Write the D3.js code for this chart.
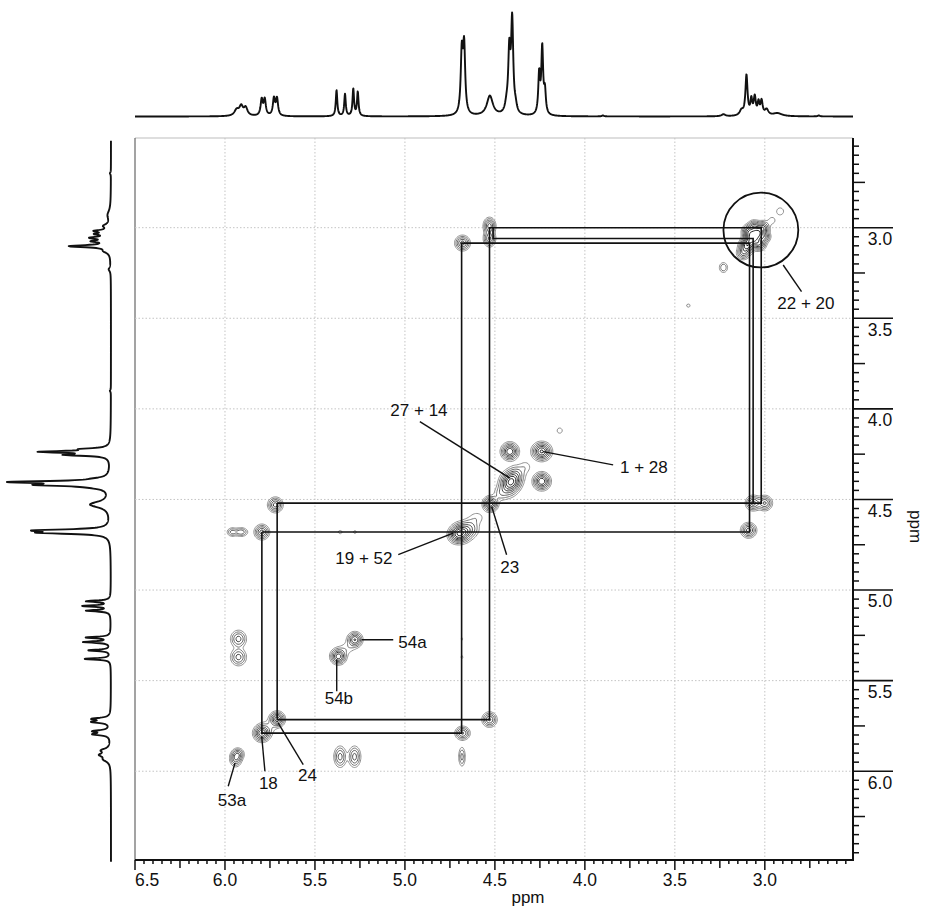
<!DOCTYPE html>
<html>
<head>
<meta charset="utf-8">
<script src="https://cdn.jsdelivr.net/npm/d3@7"></script>
<style>
  body { margin: 0; background: #fff; }
  svg { display: block; }
  text { font-family: "Liberation Sans", Arial, sans-serif; fill: #111; }
</style>
</head>
<body>
<svg id="chart" width="925" height="911"></svg>
<script>
// ---- chemical shift window (ppm) ----
const xDomain = [6.5, 2.51];
const yDomain = [2.505, 6.49];
const xTickLabels = [6.5, 6.0, 5.5, 5.0, 4.5, 4.0, 3.5, 3.0];
const yTickLabels = [3.0, 3.5, 4.0, 4.5, 5.0, 5.5, 6.0];

// ---- 1D proton spectrum (F2 trace): line positions (ppm), heights, half-widths (ppm) ----
const linePpm    = [5.935, 5.910, 5.885, 5.796, 5.779, 5.728, 5.711, 5.380, 5.333, 5.287, 5.262,
                    4.684, 4.671, 4.528, 4.435, 4.420, 4.404, 4.385, 4.254, 4.237, 4.222,
                    3.900, 3.230, 3.130, 3.102, 3.075, 3.056, 3.035, 3.018, 2.990, 2.930, 2.700];
const lineHeight = [6, 9, 8, 16, 16, 17, 17, 26, 22, 27, 24,
                    60, 66, 20, 8, 60, 92, 6, 40, 66, 22,
                    1, 2, 5, 40, 15, 18, 12, 14, 6, 3, 1];
const lineWidth  = [0.015, 0.012, 0.012, 0.007, 0.007, 0.007, 0.007, 0.005, 0.005, 0.005, 0.005,
                    0.007, 0.007, 0.020, 0.010, 0.007, 0.007, 0.008, 0.006, 0.006, 0.006,
                    0.006, 0.012, 0.012, 0.007, 0.006, 0.007, 0.006, 0.007, 0.012, 0.030, 0.006];

// ---- F1 trace: same lines plus the extra multiplet near 5.1 ppm ----
const f1ExtraPpm    = [5.062, 5.088, 5.114];
const f1ExtraHeight = [24, 27, 24];
const f1ExtraWidth  = [0.005, 0.005, 0.005];

// ---- COSY cross peaks: F2 shift, F1 shift, relative intensity, widths (ppm) ----
const peakF2  = [3.100, 3.070, 3.040, 3.090, 3.030, 3.120, 3.010, 3.000, 3.060, 2.960, 2.915,
                 4.240, 4.140, 4.410, 4.430, 4.380, 4.525, 4.690, 4.640, 4.720, 4.600, 4.470, 4.330,
                 5.278, 5.370, 5.320, 5.710, 5.795, 5.760, 5.940, 5.925,
                 4.530, 4.530, 4.680, 3.065, 3.000, 3.090, 4.417, 4.240, 3.230, 3.425,
                 5.720, 5.795, 5.960, 5.910, 5.360, 5.278, 5.925, 5.925, 4.683, 4.683,
                 4.530, 4.680, 5.360, 5.280, 4.683];
const peakF1  = [3.100, 3.060, 3.030, 3.020, 3.090, 3.140, 3.000, 3.050, 2.990, 2.960, 2.910,
                 4.235, 4.120, 4.400, 4.440, 4.360, 4.525, 4.685, 4.660, 4.700, 4.600, 4.470, 4.320,
                 5.274, 5.366, 5.320, 5.713, 5.790, 5.760, 5.930, 5.905,
                 2.990, 3.060, 3.085, 4.520, 4.520, 4.670, 4.235, 4.400, 3.220, 3.430,
                 4.530, 4.680, 4.680, 4.680, 4.680, 4.680, 5.270, 5.370, 5.270, 5.370,
                 5.715, 5.790, 5.920, 5.920, 5.920];
const peakAmp = [0.90, 1.00, 0.90, 0.60, 0.60, 0.45, 0.55, 0.45, 0.45, 0.12, 0.14,
                 0.90, 0.11, 1.00, 0.35, 0.30, 0.80, 1.00, 0.35, 0.30, 0.12, 0.16, 0.12,
                 0.70, 0.80, 0.12, 0.80, 0.85, 0.12, 0.50, 0.35,
                 0.60, 0.55, 0.60, 0.60, 0.55, 0.60, 0.85, 0.85, 0.25, 0.12,
                 0.60, 0.60, 0.30, 0.35, 0.12, 0.11, 0.45, 0.45, 0.10, 0.11,
                 0.55, 0.55, 0.45, 0.45, 0.30];
const peakW2  = [0.022, 0.024, 0.022, 0.020, 0.020, 0.020, 0.020, 0.018, 0.018, 0.018, 0.018,
                 0.028, 0.018, 0.030, 0.030, 0.028, 0.022, 0.030, 0.030, 0.024, 0.030, 0.024, 0.024,
                 0.022, 0.023, 0.030, 0.022, 0.024, 0.030, 0.018, 0.018,
                 0.018, 0.018, 0.022, 0.022, 0.022, 0.023, 0.025, 0.025, 0.015, 0.011,
                 0.022, 0.022, 0.017, 0.021, 0.012, 0.010, 0.024, 0.024, 0.007, 0.007,
                 0.022, 0.022, 0.019, 0.019, 0.011];
const peakW1  = [0.022, 0.024, 0.022, 0.020, 0.020, 0.020, 0.020, 0.018, 0.018, 0.018, 0.018,
                 0.026, 0.018, 0.030, 0.030, 0.028, 0.022, 0.028, 0.030, 0.024, 0.024, 0.024, 0.024,
                 0.022, 0.023, 0.024, 0.022, 0.024, 0.030, 0.024, 0.018,
                 0.024, 0.024, 0.022, 0.022, 0.022, 0.022, 0.025, 0.025, 0.018, 0.010,
                 0.022, 0.022, 0.014, 0.014, 0.010, 0.010, 0.026, 0.026, 0.011, 0.011,
                 0.022, 0.020, 0.032, 0.032, 0.032];

// ---- spin-system walks (F2, F1 vertices in ppm) ----
const walkA = [[5.71, 4.52], [3.02, 4.52], [3.02, 3.00], [4.53, 3.00], [4.53, 5.715], [5.71, 5.715], [5.71, 4.52]];
const walkB = [[5.795, 4.68], [3.085, 4.68], [3.085, 3.085], [4.685, 3.085], [4.685, 5.79], [5.795, 5.79], [5.795, 4.68]];
const walkC = [[4.51, 3.00], [4.51, 3.06], [3.065, 3.06], [3.065, 4.52]];

// ---- assignments: label, label centre, leader start, leader end (ppm) ----
const labelText   = ["22 + 20", "1 + 28", "27 + 14", "23", "19 + 52", "54a", "54b", "24", "18", "53a"];
const labelPos    = [[2.772, 3.415], [3.672, 4.318], [4.922, 4.006], [4.417, 4.870], [5.228, 4.823],
                     [4.958, 5.284], [5.367, 5.596], [5.542, 6.019], [5.759, 6.065], [5.961, 6.157]];
const leaderFrom  = [[2.898, 3.206], [4.232, 4.236], [4.917, 4.070], [4.518, 4.539], [5.037, 4.805],
                     [5.241, 5.274], [5.379, 5.384], [5.704, 5.734], [5.796, 5.807], [5.944, 5.954]];
const leaderTo    = [[2.796, 3.353], [3.843, 4.309], [4.417, 4.382], [4.435, 4.805], [4.732, 4.686],
                     [5.065, 5.274], [5.379, 5.559], [5.565, 5.964], [5.778, 6.000], [5.982, 6.083]];
const ringCentre  = [3.022, 3.013];
const ringRadiusPpm = 0.208;

const svg = d3.select("#chart");
const x = d3.scaleLinear().domain(xDomain).range([135, 853]);
const y = d3.scaleLinear().domain(yDomain).range([138, 860]);
const topI  = d3.scaleLinear().domain([0, 100]).range([116.5, 16.5]);
const leftI = d3.scaleLinear().domain([0, 100]).range([111, 11]);

function lorentzSum(ppm, pos, h, w) {
  let s = 0;
  for (let i = 0; i < pos.length; i++) {
    const d = ppm - pos[i];
    s += h[i] * w[i] * w[i] / (d * d + w[i] * w[i]);
  }
  return s;
}
const intensityF2 = p => lorentzSum(p, linePpm, lineHeight, lineWidth);
const intensityF1 = p => intensityF2(p) + lorentzSum(p, f1ExtraPpm, f1ExtraHeight, f1ExtraWidth);

// ---- frame and dotted grid ----
const [x0, x1] = x.range(), [y0, y1] = y.range();
svg.append("line").attr("x1", x0).attr("x2", x1).attr("y1", y0).attr("y2", y0)
  .attr("stroke", "#bdbdbd").attr("stroke-width", 1);
svg.append("line").attr("x1", x0).attr("x2", x0).attr("y1", y0).attr("y2", y1)
  .attr("stroke", "#666").attr("stroke-width", 1.2);
const grid = svg.append("g").attr("stroke", "#c4c4c4").attr("stroke-width", 1)
  .attr("stroke-dasharray", "1.5,2");
xTickLabels.filter(t => t !== 6.5).forEach(t => {
  grid.append("line").attr("x1", x(t)).attr("x2", x(t)).attr("y1", y0).attr("y2", y1);
});
yTickLabels.forEach(t => {
  grid.append("line").attr("x1", x0).attr("x2", x1).attr("y1", y(t)).attr("y2", y(t));
});

// ---- 2D contour map ----
const cell = 1.25;
const nx = Math.ceil((x1 - x0) / cell), ny = Math.ceil((y1 - y0) / cell);
const field = new Float64Array(nx * ny);
for (let k = 0; k < peakF2.length; k++) {
  const cx = x(peakF2[k]), cy = y(peakF1[k]);
  const sx = Math.abs(x(peakF2[k] + peakW2[k]) - cx);
  const sy = Math.abs(y(peakF1[k] + peakW1[k]) - cy);
  const ia = Math.max(0, Math.floor((cx - 5 * sx - x0) / cell)), ib = Math.min(nx - 1, Math.ceil((cx + 5 * sx - x0) / cell));
  const ja = Math.max(0, Math.floor((cy - 5 * sy - y0) / cell)), jb = Math.min(ny - 1, Math.ceil((cy + 5 * sy - y0) / cell));
  for (let j = ja; j <= jb; j++) {
    const dy = (y0 + (j + 0.5) * cell - cy) / sy;
    for (let i = ia; i <= ib; i++) {
      const dx = (x0 + (i + 0.5) * cell - cx) / sx;
      field[j * nx + i] += peakAmp[k] * Math.exp(-0.5 * (dx * dx + dy * dy));
    }
  }
}
const levels = [0.08, 0.15, 0.25, 0.38, 0.52, 0.68, 0.85, 1.05];
const levelColour = ["#8a8a8a", "#6e6e6e", "#555", "#404040", "#2e2e2e", "#222", "#181818", "#111"];
const contourSets = d3.contours().size([nx, ny]).thresholds(levels)(Array.from(field));
const gridToPx = d3.geoTransform({
  point(px, py) { this.stream.point(x0 + px * cell, y0 + py * cell); }
});
const contourPath = d3.geoPath(gridToPx);
svg.append("g").attr("fill", "none")
  .selectAll("path").data(contourSets).join("path")
  .attr("d", contourPath)
  .attr("stroke", (d, i) => levelColour[i])
  .attr("stroke-width", 0.95);

// ---- spin-system walks ----
const walkLine = d3.line().x(d => x(d[0])).y(d => y(d[1]));
svg.append("g").attr("fill", "none").attr("stroke", "#111").attr("stroke-width", 1.6)
  .selectAll("path").data([walkA, walkB, walkC]).join("path").attr("d", walkLine);

// ---- assignment labels ----
svg.append("circle").attr("cx", x(ringCentre[0])).attr("cy", y(ringCentre[1]))
  .attr("r", Math.abs(x(ringCentre[0] + ringRadiusPpm) - x(ringCentre[0])))
  .attr("fill", "none").attr("stroke", "#111").attr("stroke-width", 1.8);
const ann = svg.append("g");
labelText.forEach((t, i) => {
  ann.append("line")
    .attr("x1", x(leaderFrom[i][0])).attr("y1", y(leaderFrom[i][1]))
    .attr("x2", x(leaderTo[i][0])).attr("y2", y(leaderTo[i][1]))
    .attr("stroke", "#111").attr("stroke-width", 1.4);
  ann.append("text").attr("x", x(labelPos[i][0])).attr("y", y(labelPos[i][1]))
    .attr("dy", "0.36em").attr("text-anchor", "middle").attr("font-size", 17).text(t);
});

// ---- 1D projections ----
const step = 0.0015;
const ppmSamples = d3.range(xDomain[1], xDomain[0] + step / 2, step);
svg.append("path").datum(ppmSamples)
  .attr("d", d3.line().x(p => x(p)).y(p => topI(intensityF2(p))))
  .attr("fill", "none").attr("stroke", "#111").attr("stroke-width", 1.9).attr("stroke-linejoin", "round");
const ppmSamplesF1 = d3.range(2.52, 6.5, step);
svg.append("path").datum(ppmSamplesF1)
  .attr("d", d3.line().x(p => leftI(intensityF1(p))).y(p => y(p)))
  .attr("fill", "none").attr("stroke", "#111").attr("stroke-width", 1.9).attr("stroke-linejoin", "round");

// ---- bottom axis (F2) ----
const ax = svg.append("g");
ax.append("line").attr("x1", x0).attr("x2", x1).attr("y1", y1).attr("y2", y1)
  .attr("stroke", "#111").attr("stroke-width", 2);
const xMinor = d3.range(0, 80).map(i => +(6.5 - i * 0.05).toFixed(2)).filter(v => v >= xDomain[1]);
xMinor.forEach(v => {
  const q = Math.round(v * 100) % 25 === 0;
  const m = Math.round(v * 100) % 50 === 0;
  ax.append("line").attr("x1", x(v)).attr("x2", x(v)).attr("y1", y1)
    .attr("y2", y1 + (m ? 10 : q ? 8 : 4)).attr("stroke", "#111").attr("stroke-width", 1.5);
});
xTickLabels.forEach((t, i) => {
  ax.append("text").attr("x", x(t)).attr("y", 886)
    .attr("text-anchor", i === 0 ? "start" : "middle").attr("font-size", 17.5).text(t.toFixed(1));
});
ax.append("text").attr("x", 528).attr("y", 903).attr("text-anchor", "middle")
  .attr("font-size", 17).text("ppm");

// ---- right axis (F1) ----
const ay = svg.append("g");
ay.append("line").attr("x1", x1).attr("x2", x1).attr("y1", y0).attr("y2", y1 + 1)
  .attr("stroke", "#111").attr("stroke-width", 2);
const yMinor = d3.range(0, 80).map(i => +(2.55 + i * 0.05).toFixed(2)).filter(v => v <= yDomain[1]);
yMinor.forEach(v => {
  const q = Math.round(v * 100) % 25 === 0;
  const m = Math.round(v * 100) % 50 === 0;
  ay.append("line").attr("x1", x1).attr("x2", x1 + (m ? 40 : q ? 12 : 6))
    .attr("y1", y(v)).attr("y2", y(v)).attr("stroke", "#111").attr("stroke-width", m ? 1.6 : 1.5);
});
yTickLabels.forEach(t => {
  ay.append("text").attr("x", x1 + 27).attr("y", y(t) + 11).attr("dy", "0.36em")
    .attr("text-anchor", "middle").attr("font-size", 17.5).text(t.toFixed(1));
});
ay.append("text").attr("transform", `translate(915,${y(4.65)}) rotate(90)`)
  .attr("text-anchor", "middle").attr("dy", "0.3em").attr("font-size", 17).text("ppm");
</script>
</body>
</html>
